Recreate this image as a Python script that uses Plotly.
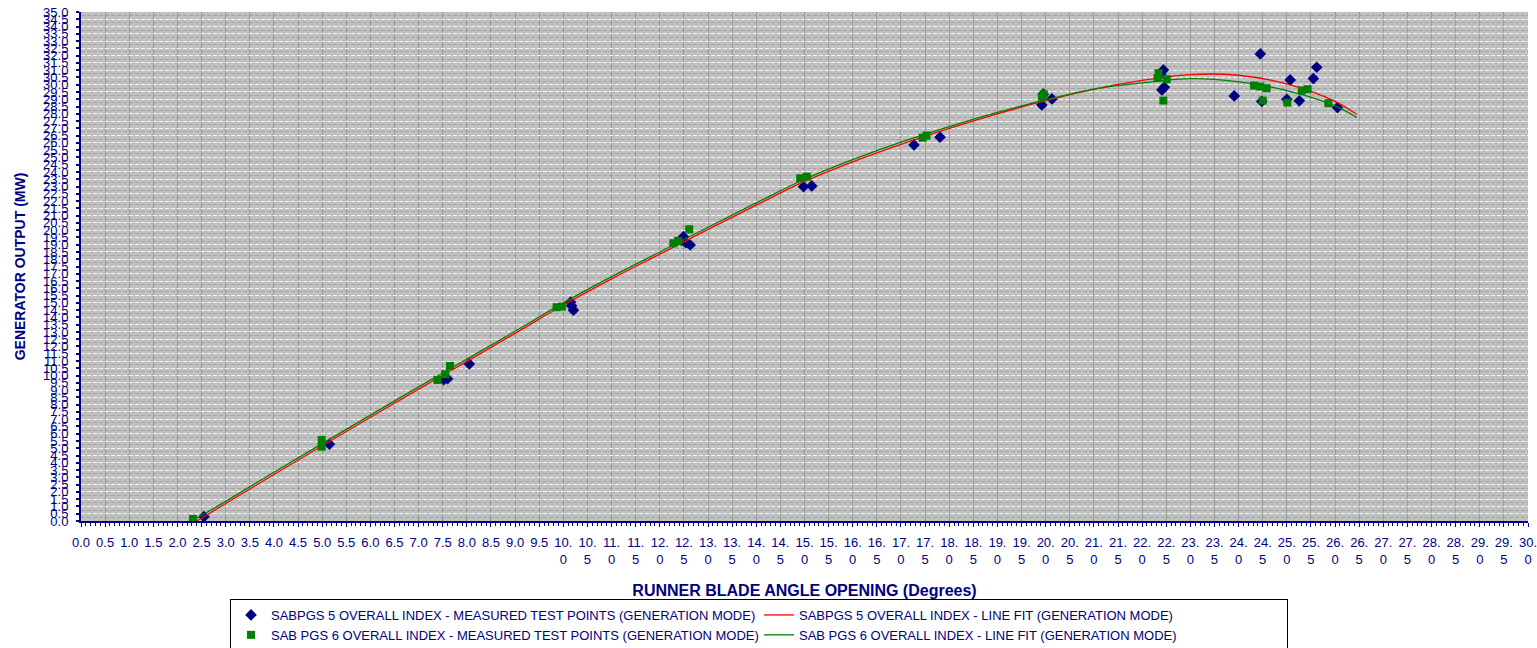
import plotly.graph_objects as go

# ---- data ----
s5_x = [2.55, 5.15, 7.52, 7.60, 8.05, 10.15, 10.21, 10.17, 12.49, 12.54, 12.63, 12.45,
        14.98, 15.15, 17.27, 17.81, 19.92, 20.13, 19.95, 22.44, 22.41, 22.46, 22.38,
        24.45, 23.91, 25.07, 25.00, 25.26, 25.62, 25.55, 26.05, 24.48]
s5_y = [0.30, 5.28, 9.72, 9.78, 10.80, 15.05, 14.50, 14.80, 19.55, 19.14, 18.98, 19.30,
        22.99, 23.04, 25.86, 26.39, 28.61, 29.02, 29.35, 31.02, 29.64, 29.83, 30.70,
        32.12, 29.23, 30.33, 29.00, 28.89, 31.20, 30.42, 28.43, 28.85]

s6_x = [2.32, 4.99, 4.99, 7.39, 7.55, 7.65, 9.86, 9.97, 12.28, 12.38, 12.61,
        14.91, 15.05, 17.45, 17.53, 19.92, 19.96, 22.34, 22.32, 22.51, 22.44,
        24.32, 24.45, 24.58, 24.50, 25.01, 25.31, 25.43, 25.86]
s6_y = [0.14, 5.57, 5.11, 9.70, 10.09, 10.66, 14.70, 14.74, 19.10, 19.26, 20.06,
        23.57, 23.68, 26.36, 26.50, 29.18, 29.35, 30.79, 30.45, 30.38, 28.91,
        29.94, 29.87, 29.76, 28.91, 28.77, 29.60, 29.69, 28.73]

fit5_x = [2.4, 3, 4, 5, 6, 7, 8, 9, 10, 11, 12, 13, 14, 15, 16, 17, 18, 19, 20,
          21, 22, 23, 24, 25, 26, 26.45]
fit5_y = [0.0, 1.2, 3.2, 5.17, 7.13, 9.07, 10.98, 12.9, 14.85, 16.65, 18.35, 20.05, 21.72,
          23.35, 24.7, 25.9, 27.0, 28.0, 28.9, 29.7, 30.3, 30.7, 30.65, 30.05,
          28.85, 27.95]

fit6_x = [2.3, 3, 4, 5, 6, 7, 8, 9, 10, 11, 12, 13, 14, 15, 16, 17, 18, 19, 20,
          21, 22, 23, 24, 25, 26, 26.45]
fit6_y = [0.0, 1.35, 3.35, 5.32, 7.28, 9.22, 11.13, 13.05, 15.0, 16.8, 18.5, 20.2, 21.87,
          23.5, 24.85, 26.05, 27.12, 28.1, 28.95, 29.7, 30.12, 30.42, 30.2, 29.6,
          28.55, 27.75]

x_ticks = [i * 0.5 for i in range(61)]
y_ticks = [i * 0.5 for i in range(71)]


def xlab(v):
    s = f"{v:.1f}"
    if v >= 10:
        a, b = s.split(".")
        return f"{a}.<br>{b}"
    return s


x_text = [xlab(v) for v in x_ticks]
y_text = [f"{v:.1f}" for v in y_ticks]

NAVY = "#000080"
FONT = "Arial, Liberation Sans, sans-serif"

fig = go.Figure()
fig.add_trace(go.Scatter(
    x=s5_x, y=s5_y, mode="markers",
    name="SABPGS 5 OVERALL INDEX - MEASURED TEST POINTS (GENERATION MODE)",
    marker=dict(symbol="diamond", size=9, color=NAVY, line=dict(width=0))))
fig.add_trace(go.Scatter(
    x=fit5_x, y=fit5_y, mode="lines", line_shape="spline",
    name="SABPGS 5 OVERALL INDEX - LINE FIT (GENERATION MODE)",
    line=dict(color="#ff0000", width=1.3)))
fig.add_trace(go.Scatter(
    x=s6_x, y=s6_y, mode="markers",
    name="SAB PGS 6 OVERALL INDEX - MEASURED TEST POINTS (GENERATION MODE)",
    marker=dict(symbol="square", size=8, color="#008000", line=dict(width=0))))
fig.add_trace(go.Scatter(
    x=fit6_x, y=fit6_y, mode="lines", line_shape="spline",
    name="SAB PGS 6 OVERALL INDEX - LINE FIT (GENERATION MODE)",
    line=dict(color="#008000", width=1.3)))

fig.update_layout(
    width=1537, height=648,
    margin=dict(l=81, r=9, t=12, b=127),
    paper_bgcolor="white",
    plot_bgcolor="#c0c0c0",
    font=dict(family=FONT, color=NAVY, size=13),
    showlegend=True,
    legend=dict(
        orientation="h",
        xref="container", yref="container",
        x=230 / 1537, xanchor="left",
        y=1 - 599 / 648, yanchor="top",
        bgcolor="white", bordercolor="black", borderwidth=1,
        font=dict(family=FONT, size=13, color=NAVY),
        entrywidth=483, entrywidthmode="pixels",
        itemwidth=30,
    ),
)

fig.update_xaxes(
    range=[0, 30],
    tickmode="array", tickvals=x_ticks, ticktext=x_text, tickangle=0,
    tickfont=dict(family=FONT, size=13, color=NAVY),
    ticks="outside", ticklen=4, tickcolor=NAVY, tickwidth=1,
    ticklabelstandoff=4, ticklabeloverflow="allow",
    showline=True, linecolor=NAVY, linewidth=2, mirror=False,
    showgrid=True, gridcolor="#9a9a9a", gridwidth=1,
    zeroline=False,
    minor=dict(dtick=0.1, tick0=0, ticks="outside", ticklen=3, tickcolor=NAVY, showgrid=False),
    title=dict(text="<b>RUNNER BLADE ANGLE OPENING (Degrees)</b>",
               font=dict(family=FONT, size=16, color=NAVY), standoff=20),
    automargin=False,
)
fig.update_yaxes(
    range=[0, 35],
    tickmode="array", tickvals=y_ticks, ticktext=y_text,
    tickfont=dict(family=FONT, size=13, color=NAVY),
    ticks="outside", ticklen=3, tickcolor=NAVY, tickwidth=2,
    ticklabelstandoff=5, ticklabeloverflow="allow",
    showline=True, linecolor=NAVY, linewidth=2,
    showgrid=True, gridcolor="#f4f4f4", gridwidth=1, griddash="4px,2px",
    zeroline=False,
    minor=dict(dtick=0.5, tick0=0.25, ticks="", showgrid=True,
               gridcolor="#a4a4a4", gridwidth=1, griddash="4px,2px"),
    title=dict(text="<b>GENERATOR OUTPUT (MW)</b>",
               font=dict(family=FONT, size=14, color=NAVY), standoff=14),
    automargin=False,
)

fig.write_html("out.html", config={"displayModeBar": False},
               post_script="document.body.style.margin='0';")
